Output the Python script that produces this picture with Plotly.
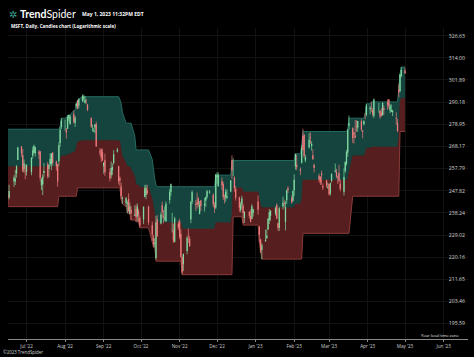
import pandas as pd
import plotly.graph_objects as go

# ---------------- data ----------------
holidays = ["2022-06-20", "2022-07-04", "2022-09-05", "2022-11-24", "2022-12-26",
            "2023-01-02", "2023-01-16", "2023-02-20", "2023-04-07"]
trade_dates = [d for d in pd.bdate_range("2022-06-16", "2023-05-01")
               if d.strftime("%Y-%m-%d") not in holidays]

opens = [
 245.98, 244.70, 251.89, 251.89, 255.57, 261.81, 268.21, 263.98, 257.59, 257.05,
 256.39, 256.16, 263.75, 265.12, 264.79, 265.65, 265.88, 250.19, 250.57, 255.72, 259.75, 257.58, 259.90, 259.79, 265.24, 261.00, 259.86, 261.16, 269.75, 277.70,
 277.82, 276.48, 276.76, 281.95, 279.15, 284.05, 279.64, 288.17, 290.85, 288.48, 291.00, 291.99, 289.74, 290.19, 288.90, 282.08, 276.44, 275.41, 277.33, 279.08, 265.85, 266.67, 265.39,
 258.87, 261.70, 256.20, 254.70, 257.03, 260.40, 265.67, 258.84, 253.53, 249.77, 244.26, 242.47, 242.07, 244.27, 237.87, 239.54, 237.05, 239.98, 236.81, 238.89, 236.08,
 235.41, 245.09, 245.99, 247.93, 240.90, 233.05, 227.62, 225.40, 219.85, 235.54, 233.77, 241.44, 236.80, 235.77, 234.74, 243.76, 247.26, 231.17, 231.04, 226.24, 233.76,
 234.60, 229.46, 220.08, 217.55, 222.60, 229.11, 227.50, 235.43, 242.99, 241.99, 242.79, 244.51, 237.78, 243.51, 241.43, 243.59, 245.11, 246.95, 246.08, 241.40, 240.57,
 253.87, 249.82, 252.01, 250.82, 244.83, 244.84, 244.70, 247.45, 261.69, 257.13, 253.72, 248.55, 244.86, 239.40, 241.69, 241.26, 236.11, 238.70, 236.89, 235.65, 238.21,
 243.08, 232.28, 227.20, 223.00, 226.45, 227.76, 231.29, 235.26, 237.00, 237.97, 241.57, 233.92, 232.02, 241.10, 242.50, 234.48, 243.65, 248.99, 244.51, 243.45,
 248.00, 258.82, 259.54, 257.44, 260.53, 273.20, 273.80, 261.53, 267.64, 272.67, 268.32, 264.02, 259.39, 254.48, 254.09, 255.56, 249.96, 252.46, 249.07,
 250.76, 246.55, 252.19, 256.43, 256.30, 254.04, 255.82, 251.08, 247.40, 256.75, 259.98, 265.21, 278.26, 276.98, 274.88, 273.40, 277.94, 277.24, 280.50, 275.79, 278.96, 284.23, 283.73,
 286.52, 287.23, 285.85, 283.21, 289.21, 285.75, 284.79, 283.59, 287.00, 289.93, 291.57, 285.99, 285.25, 285.01, 282.09, 279.51, 296.70, 295.97, 304.01,
 306.97]
highs = [
 247.42, 250.50, 254.75, 257.17, 259.37, 267.98, 268.30, 266.91, 261.97, 259.53,
 259.77, 262.98, 267.99, 269.06, 268.10, 266.53, 265.94, 253.55, 255.14, 260.37, 260.84, 259.72, 264.87, 264.89, 265.33, 261.50, 259.88, 270.05, 277.84, 282.00,
 281.28, 277.12, 283.50, 283.65, 283.65, 285.92, 283.08, 289.81, 291.21, 291.91, 294.18, 294.04, 293.35, 291.91, 289.25, 282.46, 278.86, 277.23, 279.02, 280.34, 267.40, 267.05, 267.11,
 260.89, 264.74, 257.83, 261.09, 260.12, 266.43, 267.45, 259.15, 254.23, 251.40, 245.30, 245.14, 243.51, 246.70, 242.67, 241.13, 241.45, 241.80, 242.33, 239.95, 237.24,
 241.08, 250.36, 250.58, 250.35, 241.32, 234.56, 229.06, 227.86, 236.98, 237.24, 238.53, 243.03, 239.40, 240.93, 243.13, 248.58, 251.04, 238.30, 233.69, 236.60, 234.92,
 235.74, 231.30, 220.41, 221.59, 228.57, 231.65, 228.60, 243.25, 247.99, 243.81, 247.00, 244.94, 243.25, 243.74, 244.67, 245.30, 248.26, 248.20, 246.65, 242.79, 255.33,
 256.12, 256.06, 253.82, 251.86, 246.16, 248.74, 248.31, 252.54, 263.92, 262.59, 254.20, 249.84, 245.21, 242.91, 245.62, 241.99, 238.87, 238.93, 239.72, 241.92, 239.96,
 245.75, 232.87, 227.55, 225.76, 231.24, 231.31, 235.95, 239.90, 239.37, 240.91, 242.38, 234.13, 240.86, 245.21, 243.95, 243.30, 248.31, 249.83, 245.60, 247.95,
 255.18, 264.69, 264.20, 258.30, 268.77, 276.76, 273.98, 264.09, 274.60, 274.97, 270.73, 266.74, 260.09, 255.49, 254.34, 256.84, 251.00, 252.82, 251.49,
 250.93, 251.40, 255.62, 260.12, 257.69, 254.54, 259.56, 252.79, 257.91, 261.07, 266.48, 276.56, 283.33, 277.48, 275.00, 281.04, 281.06, 280.63, 281.46, 276.14, 281.14, 284.46, 289.27,
 288.27, 290.45, 287.15, 292.08, 289.60, 285.98, 287.01, 289.90, 288.48, 291.60, 291.76, 289.05, 289.03, 286.27, 284.95, 281.60, 299.57, 305.20, 308.93,
 308.60]
lows = [
 241.51, 244.03, 249.51, 250.37, 253.63, 261.72, 263.28, 256.32, 255.76, 252.90,
 254.61, 254.74, 262.40, 265.02, 263.29, 262.18, 252.04, 248.11, 245.94, 253.85, 253.30, 253.68, 258.91, 257.03, 259.07, 256.81, 249.57, 258.85, 267.87, 276.63,
 275.84, 271.86, 276.61, 280.42, 278.68, 279.32, 277.61, 286.94, 286.51, 286.94, 290.11, 290.42, 289.47, 289.08, 285.56, 277.22, 275.40, 275.11, 274.52, 267.98, 263.85, 260.66, 261.33,
 255.41, 254.47, 251.94, 253.31, 254.78, 259.63, 265.25, 250.64, 249.86, 244.02, 242.06, 240.85, 238.12, 238.70, 237.81, 235.20, 236.90, 234.50, 234.73, 234.41, 232.04,
 233.54, 244.98, 244.10, 246.08, 233.17, 226.73, 224.11, 223.96, 219.13, 228.34, 233.42, 236.00, 233.83, 234.68, 234.45, 242.14, 245.57, 230.06, 225.78, 226.05, 231.15,
 227.33, 220.04, 213.43, 214.80, 221.28, 225.83, 224.33, 233.86, 241.93, 239.03, 240.03, 240.69, 237.63, 239.03, 238.80, 240.71, 244.27, 246.49, 240.80, 238.21, 239.86,
 250.91, 249.69, 248.06, 243.78, 242.21, 243.06, 244.16, 247.17, 253.07, 254.31, 247.34, 243.51, 238.71, 238.42, 240.11, 233.87, 233.94, 235.83, 234.17, 235.65, 236.66,
 237.40, 225.96, 221.76, 219.35, 226.41, 227.33, 231.11, 233.56, 234.92, 237.09, 235.52, 230.67, 230.68, 239.65, 240.44, 230.90, 242.00, 246.83, 242.20, 242.95,
 245.47, 257.25, 257.10, 254.78, 260.08, 266.21, 262.80, 260.66, 267.15, 269.28, 266.18, 261.90, 256.00, 251.59, 250.34, 250.48, 248.10, 249.39, 248.73,
 245.79, 245.61, 251.39, 255.98, 253.39, 250.81, 251.58, 247.60, 245.73, 255.86, 259.21, 263.28, 276.32, 269.85, 269.52, 272.18, 275.20, 275.28, 275.52, 272.05, 278.41, 281.48, 283.00,
 283.95, 285.16, 282.92, 282.03, 284.71, 281.64, 282.69, 283.17, 283.69, 286.16, 287.01, 284.54, 285.08, 283.06, 278.72, 275.37, 292.73, 295.25, 303.31,
 305.15]
closes = [
 244.97, 247.65, 253.74, 253.13, 258.86, 267.70, 264.89, 256.48, 260.26, 256.83,
 259.58, 262.85, 266.21, 268.40, 267.66, 264.51, 253.67, 252.72, 254.08, 256.72, 254.25, 259.53, 262.27, 264.84, 260.36, 258.83, 251.90, 268.74, 276.41, 280.74,
 278.01, 274.82, 282.47, 283.65, 282.91, 280.32, 282.30, 289.16, 287.02, 291.91, 293.47, 292.71, 291.32, 290.17, 286.15, 277.75, 276.44, 275.79, 278.85, 268.09, 265.23, 262.97, 261.47,
 260.40, 256.06, 253.25, 258.09, 258.52, 264.46, 266.65, 251.99, 252.22, 245.38, 244.74, 244.52, 242.45, 238.95, 240.98, 237.92, 237.45, 236.41, 241.07, 237.50, 232.90,
 240.74, 248.88, 249.20, 246.79, 234.24, 229.25, 225.41, 225.75, 234.24, 228.56, 237.53, 238.50, 236.48, 236.15, 242.12, 247.25, 250.66, 231.32, 226.75, 235.87, 232.13,
 228.17, 220.10, 214.25, 221.39, 227.87, 228.87, 224.51, 242.98, 247.11, 241.55, 241.97, 241.73, 241.68, 241.22, 242.05, 245.03, 247.58, 247.49, 241.76, 240.33, 255.14,
 254.69, 255.02, 250.20, 245.12, 244.37, 247.40, 245.42, 252.51, 256.92, 257.22, 249.01, 244.69, 240.45, 241.80, 244.43, 238.19, 238.73, 236.96, 234.53, 241.01, 239.82,
 239.58, 229.10, 222.31, 224.93, 227.12, 228.85, 235.77, 238.51, 239.23, 240.35, 235.81, 231.93, 240.22, 242.58, 242.04, 240.61, 248.00, 248.16, 242.71, 247.81,
 252.75, 264.60, 258.35, 256.77, 267.56, 266.73, 263.62, 263.10, 271.32, 272.17, 269.32, 262.15, 258.06, 252.67, 251.51, 254.77, 249.22, 250.16, 249.42,
 246.27, 251.11, 255.29, 256.87, 254.15, 253.70, 252.32, 248.59, 253.92, 260.79, 265.44, 276.20, 279.43, 272.23, 273.78, 272.29, 277.66, 280.57, 276.38, 275.23, 280.51, 284.05, 288.30,
 287.23, 287.18, 284.34, 291.60, 289.39, 282.83, 283.49, 289.84, 286.14, 288.80, 288.37, 288.45, 286.11, 285.76, 281.77, 275.42, 295.37, 304.83, 307.26,
 305.56]

# channel: corner points of upper, middle and lower bands
band_dates = [
 "2022-06-16", "2022-07-26", "2022-07-27", "2022-07-28", "2022-07-29", "2022-08-02", "2022-08-03", "2022-08-05",
 "2022-08-08", "2022-08-09", "2022-08-10", "2022-08-11", "2022-08-12", "2022-08-15", "2022-09-13", "2022-09-14",
 "2022-09-15", "2022-09-16", "2022-09-19", "2022-09-20", "2022-09-22", "2022-09-23", "2022-09-26", "2022-09-27",
 "2022-09-29", "2022-09-30", "2022-10-07", "2022-10-10", "2022-10-11", "2022-10-12", "2022-10-13", "2022-10-14",
 "2022-11-02", "2022-11-03", "2022-11-29", "2022-11-30", "2022-12-12", "2022-12-13", "2022-12-14", "2022-12-21",
 "2022-12-22", "2023-01-03", "2023-01-04", "2023-01-05", "2023-01-06", "2023-02-01", "2023-02-02", "2023-02-06",
 "2023-02-07", "2023-02-08", "2023-03-15", "2023-03-16", "2023-03-17", "2023-03-20", "2023-03-29", "2023-03-30",
 "2023-03-31", "2023-04-03", "2023-04-04", "2023-04-25", "2023-04-26", "2023-04-27", "2023-04-28", "2023-05-01"]
band_upper = [
 276.5, 276.5, 276.5, 277.8, 282.0, 282.0, 283.5, 283.7,
 285.9, 285.9, 289.8, 291.2, 291.9, 293.0, 293.0, 291.5,
 289.3, 285.0, 279.5, 279.5, 279.5, 279.5, 273.0, 266.5,
 266.5, 266.5, 266.5, 262.0, 257.0, 253.0, 250.5, 249.6,
 249.6, 249.6, 249.6, 254.8, 254.8, 261.5, 261.5, 261.5,
 261.5, 261.5, 261.5, 261.5, 261.5, 261.5, 264.7, 264.7,
 268.8, 275.4, 275.4, 276.6, 282.0, 282.0, 282.0, 284.5,
 289.3, 289.3, 290.3, 290.3, 299.6, 305.2, 308.9, 308.9]
band_middle = [
 258.70, 258.70, 260.95, 261.60, 263.70, 263.70, 264.45, 264.55,
 265.65, 265.65, 267.60, 270.15, 270.50, 271.05, 271.05, 270.30,
 266.65, 263.55, 260.20, 258.80, 258.65, 257.35, 254.10, 250.50,
 250.45, 249.25, 249.25, 244.35, 240.55, 238.50, 234.55, 234.10,
 234.10, 231.50, 231.50, 234.10, 234.10, 237.45, 249.05, 249.05,
 247.30, 247.30, 243.75, 241.65, 240.45, 240.45, 242.05, 242.05,
 244.10, 252.55, 252.55, 253.15, 255.85, 263.70, 263.70, 264.95,
 267.35, 267.35, 267.85, 267.85, 272.50, 290.30, 292.15, 292.15]
band_lower = [
 240.9, 240.9, 245.4, 245.4, 245.4, 245.4, 245.4, 245.4,
 245.4, 245.4, 245.4, 249.1, 249.1, 249.1, 249.1, 249.1,
 244.0, 242.1, 240.9, 238.1, 237.8, 235.2, 235.2, 234.5,
 234.4, 232.0, 232.0, 226.7, 224.1, 224.0, 218.6, 218.6,
 218.6, 213.4, 213.4, 213.4, 213.4, 213.4, 236.6, 236.6,
 233.1, 233.1, 226.0, 221.8, 219.4, 219.4, 219.4, 219.4,
 219.4, 229.7, 229.7, 229.7, 229.7, 245.4, 245.4, 245.4,
 245.4, 245.4, 245.4, 245.4, 245.4, 275.4, 275.4, 275.4]

price_ticks = [195.59, 203.46, 211.65, 220.16, 229.02, 238.24, 247.82, 257.79,
               268.17, 278.95, 290.18, 301.89, 314.00, 326.63]
price_tick_labels = ["195.59", "203.46", "211.65", "220.16", "229.02", "238.24", "247.82",
                     "257.79", "268.17", "278.95", "290.18", "301.89", "314.00", "326.63"]
last_price = 305.56

# ---------------- figure ----------------
W, H = 474, 357
L_M, R_M, T_M, B_M = 8, 6, 28, 18
PW, PH = W - L_M - R_M, H - T_M - B_M

def px(x):
    return (x - L_M) / PW

def py(y):
    return (H - B_M - y) / PH

UP = "#7fd89f"
DOWN = "#ec7a7c"

fig = go.Figure()

# channel fills
fig.add_trace(go.Scatter(x=band_dates, y=band_lower, mode="lines",
                         line=dict(color="#8a3a3a", width=1), hoverinfo="skip"))
fig.add_trace(go.Scatter(x=band_dates, y=band_middle, mode="lines", fill="tonexty",
                         fillcolor="#561e1e", line=dict(color="#5e2424", width=0.6),
                         hoverinfo="skip"))
fig.add_trace(go.Scatter(x=band_dates, y=band_upper, mode="lines", fill="tonexty",
                         fillcolor="#15443e", line=dict(color="#256a60", width=1),
                         hoverinfo="skip"))

# candles drawn as wick + body segments so they sit above the channel fills
for is_up, color in ((True, UP), (False, DOWN)):
    wx, wy, bx, by = [], [], [], []
    for d, o, h, l, c in zip(trade_dates, opens, highs, lows, closes):
        if (c >= o) != is_up:
            continue
        wx += [d, d, None]
        wy += [l, h, None]
        lo_b, hi_b = min(o, c), max(o, c)
        if hi_b == lo_b:
            hi_b = lo_b * 1.0004
        bx += [d, d, None]
        by += [lo_b, hi_b, None]
    fig.add_trace(go.Scatter(x=wx, y=wy, mode="lines", line=dict(color=color, width=0.7),
                             hoverinfo="skip", connectgaps=False))
    fig.add_trace(go.Scatter(x=bx, y=by, mode="lines", line=dict(color=color, width=1.3),
                             hoverinfo="skip", connectgaps=False))

fig.update_layout(
    width=W, height=H,
    margin=dict(l=L_M, r=R_M, t=T_M, b=B_M),
    paper_bgcolor="#000000", plot_bgcolor="#000000",
    showlegend=False,
    font=dict(family="Open Sans, Arial, sans-serif", color="#d8d8d8"),
    xaxis=dict(
        type="date",
        range=["2022-06-16 03:20", "2023-06-20 14:24"],
        tick0="2022-07-01", dtick="M1", tickformat="%b '%y",
        ticks="outside", ticklen=2, tickcolor="#8a8a8a",
        showline=True, linecolor="#8a8a8a", linewidth=1,
        showgrid=True, gridcolor="#121212", gridwidth=1,
        tickfont=dict(size=4.6, color="#d0d0d0"),
        zeroline=False,
    ),
    yaxis=dict(
        type="log", side="right",
        range=[2.27944, 2.52001],
        tickvals=price_ticks, ticktext=price_tick_labels,
        ticklabelposition="inside",
        ticks="", showline=False,
        showgrid=True, gridcolor="#121212", gridwidth=1,
        tickfont=dict(size=5.2, color="#d0d0d0"),
        zeroline=False,
    ),
)

ann = []
# logo
ann.append(dict(x=px(7), y=py(14), xref="paper", yref="paper", xanchor="left", yanchor="middle",
                text="✲", showarrow=False, font=dict(size=10, color="#3aa394")))
ann.append(dict(x=px(18), y=py(14), xref="paper", yref="paper", xanchor="left", yanchor="middle",
                text="<b>Trend</b>Spider", showarrow=False,
                font=dict(size=10.5, color="#ffffff", family="Lato, Open Sans, sans-serif")))
ann.append(dict(x=px(80), y=py(14), xref="paper", yref="paper", xanchor="left", yanchor="middle",
                text="<b>May 1, 2023 11:32PM EDT</b>", showarrow=False,
                font=dict(size=5.0, color="#ffffff")))
ann.append(dict(x=px(9), y=py(26), xref="paper", yref="paper", xanchor="left", yanchor="middle",
                text="<b>MSFT, Daily, Candles chart (Logarithmic scale)</b>", showarrow=False,
                font=dict(size=4.6, color="#ffffff")))
ann.append(dict(x=px(1), y=py(352), xref="paper", yref="paper", xanchor="left", yanchor="middle",
                text="©2023 TrendSpider", showarrow=False,
                font=dict(size=4.4, color="#cfcfcf")))
ann.append(dict(x=px(462), y=py(335.5), xref="paper", yref="paper", xanchor="right", yanchor="middle",
                text="Your local time zone", showarrow=False,
                font=dict(size=4.0, color="#e8e8e8")))
# last price badge
ann.append(dict(x=px(456), y=last_price, xref="paper", yref="y", xanchor="center", yanchor="middle",
                text=f"{last_price:.2f}", showarrow=False, bgcolor="#ffffff",
                font=dict(size=5.2, color="#000000"), borderpad=0.5, yshift=-2))
fig.update_layout(annotations=ann)

fig.write_html("out.html", config={"displayModeBar": False},
               post_script="document.body.style.margin='0px';document.body.style.overflow='hidden';")
